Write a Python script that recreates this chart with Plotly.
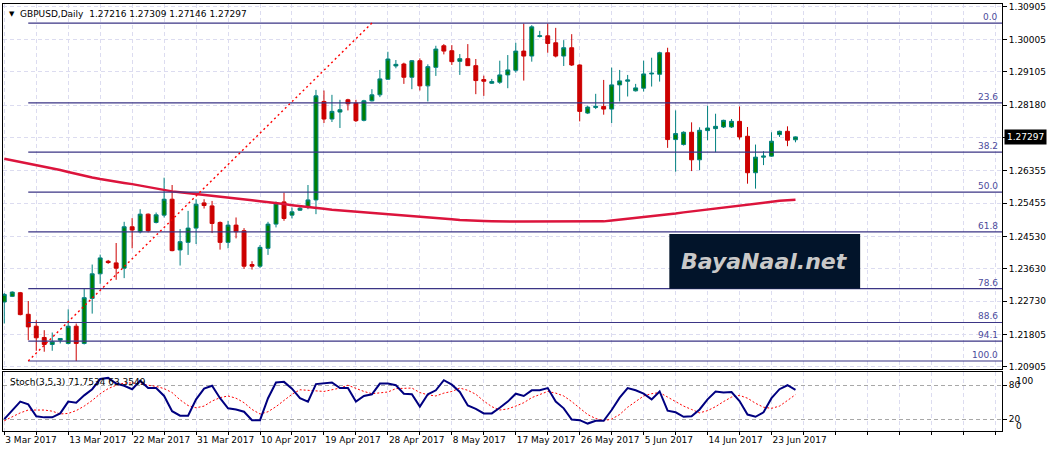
import plotly.graph_objects as go

# ---------------- data ----------------
symbol = "GBPUSD,Daily"
date_labels = ["3 Mar 2017", "13 Mar 2017", "22 Mar 2017", "31 Mar 2017", "10 Apr 2017",
               "19 Apr 2017", "28 Apr 2017", "8 May 2017", "17 May 2017", "26 May 2017",
               "5 Jun 2017", "14 Jun 2017", "23 Jun 2017"]

opens = [
    1.22710, 1.22867, 1.22968, 1.22369, 1.22038, 1.21725, 1.21531, 1.21651, 1.21559, 1.22038,
    1.21559, 1.22811, 1.23493, 1.23843, 1.23797, 1.23649, 1.24800, 1.24662, 1.25150, 1.24920,
    1.25123, 1.25565, 1.24156, 1.24367, 1.24763, 1.25463, 1.25380, 1.24920, 1.24367, 1.24846,
    1.24690, 1.23751, 1.23705, 1.24202, 1.24874, 1.25491, 1.25123, 1.25261, 1.25334, 1.25546,
    1.28281, 1.27793, 1.27986, 1.28327, 1.28235, 1.27756, 1.28299, 1.28465, 1.28898, 1.29266,
    1.29321, 1.28953, 1.29413, 1.28714, 1.29229, 1.29828, 1.29690, 1.29395, 1.29469, 1.29275,
    1.28889, 1.28787, 1.28815, 1.29018, 1.29146, 1.29680, 1.29542, 1.30086, 1.30104, 1.29911,
    1.29542, 1.29773, 1.29294, 1.27959, 1.28115, 1.28143, 1.28069, 1.28741, 1.28843, 1.28576,
    1.28649, 1.29045, 1.29036, 1.29634, 1.27222, 1.27084, 1.27425, 1.26660, 1.27471, 1.27526,
    1.27572, 1.27572, 1.27728, 1.27314, 1.26301, 1.26734, 1.26762, 1.27360, 1.27452, 1.27216,
]
highs = [
    1.22959, 1.23005, 1.22990, 1.22738, 1.22204, 1.21927, 1.21863, 1.21710, 1.22507, 1.22112,
    1.23078, 1.23751, 1.24027, 1.23879, 1.24349, 1.24938, 1.25040, 1.25288, 1.25168, 1.25196,
    1.26163, 1.25960, 1.24736, 1.25242, 1.25565, 1.25565, 1.25518, 1.24948, 1.24966, 1.25058,
    1.24763, 1.23843, 1.24294, 1.24938, 1.25500, 1.25749, 1.25334, 1.25380, 1.25960, 1.28603,
    1.28585, 1.28465, 1.28327, 1.28355, 1.28327, 1.28327, 1.28622, 1.29156, 1.29662, 1.29432,
    1.29358, 1.29432, 1.29478, 1.29312, 1.29828, 1.29874, 1.29846, 1.29598, 1.29874, 1.29460,
    1.28999, 1.28907, 1.29413, 1.29570, 1.29911, 1.30445, 1.30399, 1.30242, 1.30445, 1.30325,
    1.29984, 1.30150, 1.29312, 1.28161, 1.28493, 1.28879, 1.29220, 1.29156, 1.29018, 1.28769,
    1.29413, 1.29496, 1.29662, 1.29773, 1.28032, 1.27452, 1.27701, 1.27563, 1.28161, 1.27940,
    1.27774, 1.27793, 1.28143, 1.27572, 1.27084, 1.26900, 1.27425, 1.27471, 1.27590, 1.27309,
]
lows = [
    1.22112, 1.22848, 1.22340, 1.21651, 1.21356, 1.21329, 1.21356, 1.21559, 1.21531, 1.21071,
    1.21531, 1.22388, 1.23216, 1.23769, 1.23327, 1.23373, 1.24202, 1.24616, 1.24644, 1.24892,
    1.25058, 1.24119, 1.23723, 1.24018, 1.24321, 1.25307, 1.24625, 1.24165, 1.24202, 1.24478,
    1.23631, 1.23612, 1.23649, 1.24018, 1.24782, 1.24966, 1.25030, 1.25242, 1.25288, 1.25150,
    1.27682, 1.27710, 1.27544, 1.28032, 1.27710, 1.27728, 1.28281, 1.28401, 1.28879, 1.29202,
    1.28769, 1.28622, 1.28585, 1.28281, 1.28990, 1.29588, 1.29294, 1.29018, 1.29266, 1.28483,
    1.28437, 1.28769, 1.28769, 1.28649, 1.29082, 1.28861, 1.29386, 1.30058, 1.29634, 1.29505,
    1.29266, 1.29266, 1.27728, 1.27931, 1.28069, 1.27913, 1.27682, 1.28281, 1.28419, 1.28557,
    1.28557, 1.28695, 1.28833, 1.26992, 1.26329, 1.27056, 1.26347, 1.26375, 1.27204, 1.26872,
    1.27544, 1.27544, 1.27222, 1.25997, 1.25859, 1.26513, 1.26743, 1.27296, 1.27038, 1.27146,
]
closes = [
    1.22922, 1.22986, 1.22360, 1.22019, 1.21716, 1.21531, 1.21605, 1.21697, 1.22038, 1.21559,
    1.22830, 1.23493, 1.23935, 1.23806, 1.23649, 1.24800, 1.24708, 1.25150, 1.24690, 1.25132,
    1.25565, 1.24137, 1.24386, 1.24763, 1.25426, 1.25390, 1.24892, 1.24367, 1.24846, 1.24662,
    1.23705, 1.23705, 1.24229, 1.24874, 1.25454, 1.25030, 1.25215, 1.25316, 1.25546, 1.28437,
    1.27793, 1.28005, 1.28051, 1.28216, 1.27747, 1.28299, 1.28465, 1.28907, 1.29460, 1.29312,
    1.28953, 1.29413, 1.28714, 1.29248, 1.29736, 1.29680, 1.29386, 1.29469, 1.29275, 1.28861,
    1.28843, 1.28833, 1.29018, 1.29156, 1.29680, 1.29542, 1.30353, 1.30104, 1.29892, 1.29542,
    1.29773, 1.29294, 1.28005, 1.28124, 1.28143, 1.28069, 1.28741, 1.28852, 1.28879, 1.28658,
    1.29045, 1.29064, 1.29634, 1.27222, 1.27388, 1.27425, 1.26660, 1.27480, 1.27544, 1.27590,
    1.27756, 1.27728, 1.27296, 1.26301, 1.26734, 1.26762, 1.27176, 1.27452, 1.27204, 1.27297,
]
ma_values = [
    1.26687, 1.26645, 1.26602, 1.26560, 1.26518, 1.26476, 1.26435, 1.26378, 1.26322, 1.26265,
    1.26209, 1.26168, 1.26126, 1.26085, 1.26052, 1.26018, 1.25985, 1.25941, 1.25897, 1.25854,
    1.25810, 1.25783, 1.25756, 1.25729, 1.25702, 1.25675, 1.25651, 1.25627, 1.25602, 1.25578,
    1.25556, 1.25534, 1.25512, 1.25490, 1.25460, 1.25430, 1.25400, 1.25370, 1.25346, 1.25322,
    1.25299, 1.25275, 1.25256, 1.25238, 1.25219, 1.25200, 1.25182, 1.25165, 1.25148, 1.25130,
    1.25112, 1.25094, 1.25076, 1.25058, 1.25040, 1.25024, 1.25008, 1.24991, 1.24975, 1.24968,
    1.24960, 1.24953, 1.24946, 1.24946, 1.24946, 1.24946, 1.24946, 1.24946, 1.24946, 1.24946,
    1.24946, 1.24946, 1.24946, 1.24946, 1.24946, 1.24950, 1.24975, 1.24998, 1.25020, 1.25040,
    1.25060, 1.25080, 1.25110, 1.25140, 1.25170, 1.25200, 1.25228, 1.25255, 1.25283, 1.25310,
    1.25338, 1.25365, 1.25393, 1.25420, 1.25445, 1.25470, 1.25495, 1.25520, 1.25535, 1.25550,
]
stoch_main = [
    20, 36, 51, 46, 25, 23, 23, 30, 51, 49,
    62, 73, 91, 93, 83, 79, 73, 88, 75, 75,
    61, 34, 26, 26, 55, 74, 79, 57, 39, 37,
    33, 18, 18, 57, 85, 86, 74, 57, 51, 82,
    83, 85, 75, 75, 51, 61, 64, 83, 83, 80,
    65, 64, 42, 64, 71, 89, 81, 68, 44, 38,
    30, 30, 40, 51, 65, 61, 71, 71, 75, 51,
    39, 19, 18, 12, 17, 17, 36, 58, 75, 71,
    65, 55, 69, 35, 32, 24, 25, 37, 55, 69,
    67, 68, 52, 28, 24, 32, 57, 73, 80, 71.7534,
]
stoch_signal = [
    17, 24, 31, 36, 36, 36, 34, 29, 30, 35,
    43, 53, 65, 74, 80, 84, 84, 83, 80, 78,
    74, 67, 54, 44, 40, 43, 52, 58, 61, 57,
    49, 37, 29, 33, 42, 53, 64, 72, 71, 70,
    69, 72, 75, 80, 74, 69, 65, 67, 68, 74,
    75, 75, 67, 63, 61, 66, 69, 75, 71, 64,
    52, 42, 36, 38, 43, 49, 58, 64, 69, 66,
    61, 51, 40, 28, 21, 17, 20, 28, 41, 51,
    61, 65, 67, 59, 51, 43, 37, 31, 35, 42,
    51, 59, 62, 57, 48, 41, 39, 43, 53, 63.3549,
]
fib_levels = [0.0, 23.6, 38.2, 50.0, 61.8, 78.6, 88.6, 94.1, 100.0]
fib_low = 1.21071
fib_high = 1.30458
fib_anchor_bars = [3, 46]
price_ticks = [1.30905, 1.30005, 1.29105, 1.28180, 1.27280, 1.26355,
               1.25455, 1.24530, 1.23630, 1.22730, 1.21805, 1.20905]
hidden_price_tick = 1.27280
stoch_levels = [80, 20]

# ---------------- styling ----------------
FONT = "DejaVu Sans"
GRID = "#dcdcf0"
FIBC = "#3b3585"
X_MIN, X_MAX = -0.16, 124.84
bars = list(range(len(opens)))
bars_per_label = 8
grid_step = 4

fig = go.Figure()

fig.add_trace(go.Candlestick(
    x=bars, open=opens, high=highs, low=lows, close=closes,
    increasing=dict(line=dict(color="#008080", width=1), fillcolor="#008000"),
    decreasing=dict(line=dict(color="#cc0000", width=1), fillcolor="#cc0000"),
    whiskerwidth=0, showlegend=False, hoverinfo="skip", xaxis="x", yaxis="y"))

fig.add_trace(go.Scatter(x=bars, y=ma_values, mode="lines",
                         line=dict(color="#DC143C", width=2.5),
                         showlegend=False, hoverinfo="skip", xaxis="x", yaxis="y"))

# Fibonacci retracement
for lvl in fib_levels:
    p = fib_high - (fib_high - fib_low) * lvl / 100.0
    fig.add_trace(go.Scatter(x=[fib_anchor_bars[0], X_MAX], y=[p, p], mode="lines",
                             line=dict(color=FIBC, width=1.2), showlegend=False,
                             hoverinfo="skip", xaxis="x", yaxis="y"))
    fig.add_annotation(x=X_MAX, y=p, xref="x", yref="y", xanchor="right", yanchor="bottom",
                       xshift=-2, yshift=-1, text=f"{lvl:.1f}", showarrow=False,
                       font=dict(family=FONT, size=9, color="#4b4b9b"))
fig.add_trace(go.Scatter(x=fib_anchor_bars, y=[fib_low, fib_high], mode="lines",
                         line=dict(color="#ff0000", width=1.4, dash="2px,3px"),
                         showlegend=False, hoverinfo="skip", xaxis="x", yaxis="y"))

# Stochastic
fig.add_trace(go.Scatter(x=bars, y=stoch_signal, mode="lines",
                         line=dict(color="#ff0000", width=1, dash="2px,2px"),
                         showlegend=False, hoverinfo="skip", xaxis="x2", yaxis="y2"))
fig.add_trace(go.Scatter(x=bars, y=stoch_main, mode="lines",
                         line=dict(color="#000080", width=2),
                         showlegend=False, hoverinfo="skip", xaxis="x2", yaxis="y2"))

grid_vals = list(range(0, int(X_MAX) + 1, grid_step))
grid_text = []
for v in grid_vals:
    k = v // bars_per_label
    if v % bars_per_label == 0 and k < len(date_labels):
        grid_text.append(date_labels[k])
    else:
        grid_text.append("")

price_text = ["" if t == hidden_price_tick else f"{t:.5f}" for t in price_ticks]

axis_common = dict(showline=True, mirror=True, linecolor="black", linewidth=1,
                   zeroline=False, showgrid=True, gridcolor=GRID, griddash="4px,3px",
                   gridwidth=1)

fig.update_layout(
    width=1053, height=452, autosize=False,
    margin=dict(l=2, r=51, t=2, b=21, pad=0),
    paper_bgcolor="white", plot_bgcolor="white",
    font=dict(family=FONT, size=9, color="black"),
    showlegend=False,
    xaxis=dict(domain=[0, 1], anchor="y", range=[X_MIN, X_MAX], tickmode="array",
               tickvals=grid_vals, showticklabels=False, ticks="",
               rangeslider=dict(visible=False), **axis_common),
    yaxis=dict(domain=[0.1445, 1], anchor="x", range=[1.20841, 1.30988], side="right",
               tickmode="array", tickvals=price_ticks, ticktext=price_text,
               ticks="outside", ticklen=4, tickcolor="black",
               tickfont=dict(family=FONT, size=9, color="black"), **axis_common),
    xaxis2=dict(domain=[0, 1], anchor="y2", matches="x", range=[X_MIN, X_MAX],
                tickmode="array", tickvals=grid_vals, ticktext=grid_text, tickangle=0,
                ticklabelposition="outside right", ticks="outside", ticklen=3,
                tickcolor="black", tickfont=dict(family=FONT, size=9, color="black"),
                rangeslider=dict(visible=False), **axis_common),
    yaxis2=dict(domain=[0, 0.1375], anchor="x2", range=[-1.2, 103], side="right",
                tickmode="array", tickvals=stoch_levels,
                ticktext=[str(v) for v in stoch_levels], ticks="outside", ticklen=4,
                tickcolor="black", tickfont=dict(family=FONT, size=9, color="black"),
                showline=True, mirror=True, linecolor="black", linewidth=1,
                zeroline=False, showgrid=True, gridcolor="#a8a8a8", griddash="4px,3px"),
)

# stochastic extreme labels
fig.add_annotation(x=1, y=100, xref="paper", yref="y2", xanchor="left", yanchor="top",
                   xshift=12, yshift=0, text="100", showarrow=False,
                   font=dict(family=FONT, size=9, color="black"))
fig.add_annotation(x=1, y=0, xref="paper", yref="y2", xanchor="left", yanchor="bottom",
                   xshift=12, yshift=-3, text="0", showarrow=False,
                   font=dict(family=FONT, size=9, color="black"))

# header texts
fig.add_annotation(x=0, y=1, xref="paper", yref="paper", xanchor="left", yanchor="top",
                   xshift=4, yshift=-4, text="▼", showarrow=False,
                   font=dict(family=FONT, size=7, color="black"))
fig.add_annotation(x=0, y=1, xref="paper", yref="paper", xanchor="left", yanchor="top",
                   xshift=15, yshift=-3,
                   text=f"{symbol}&nbsp; {opens[-1]:.5f} {highs[-1]:.5f} {lows[-1]:.5f} {closes[-1]:.5f}",
                   showarrow=False, font=dict(family=FONT, size=9, color="black"))
fig.add_annotation(x=0, y=1, xref="paper", yref="y2 domain", xanchor="left", yanchor="top",
                   xshift=5, yshift=-3,
                   text=f"Stoch(3,5,3) {stoch_main[-1]:.4f} {stoch_signal[-1]:.4f}",
                   showarrow=False, font=dict(family=FONT, size=9, color="black"))

# current price box
fig.add_annotation(x=1, y=closes[-1], xref="paper", yref="y", xanchor="left", yanchor="middle",
                   xshift=2, text=f"{closes[-1]:.5f}", showarrow=False, bgcolor="black",
                   borderpad=2, font=dict(family=FONT, size=9, color="white"))

# watermark logo
fig.add_shape(type="rect", xref="paper", yref="paper", x0=0.667, x1=0.858, y0=0.3333, y1=0.4615,
              fillcolor="#02142a", line=dict(width=0), layer="above")
fig.add_annotation(x=0.7625, y=0.397, xref="paper", yref="paper", xanchor="center",
                   yanchor="middle", text="<b><i>BayaNaal.net</i></b>", showarrow=False,
                   font=dict(family=FONT, size=22, color="#c9c9c9"))

fig.write_html("out.html", config={"displayModeBar": False},
               post_script="document.body.style.margin='0';document.body.style.overflow='hidden';")
